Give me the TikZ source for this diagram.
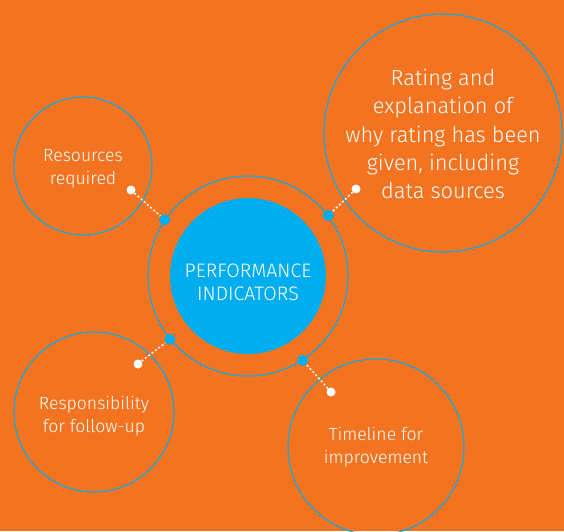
\documentclass[tikz,border=0pt]{standalone}
\usepackage{fontspec}
\setmainfont{Fira Sans Light}
\definecolor{bgorange}{HTML}{F37321}
\definecolor{piblue}{HTML}{00AEEF}
\begin{document}
\begin{tikzpicture}[x=1pt,y=-1pt,
  bubble/.style={circle, draw=piblue, line width=1.1pt, inner sep=0pt},
  lbl/.style={text=white, align=center, inner sep=0pt},
  smalltext/.style={font=\fontsize{17.6}{23}\selectfont},
  bigtext/.style={font=\fontsize{21.8}{28.3}\selectfont},
  bluedot/.style={circle, fill=piblue, inner sep=0pt, minimum size=11pt},
  whitedot/.style={circle, fill=white, inner sep=0pt, minimum size=9pt},
  link/.style={white, line width=1.5pt, dash pattern=on 2pt off 2.2pt}]
\fill[bgorange] (0,0) rectangle (564,531);
\useasboundingbox (0,0) rectangle (564,531);
% central
\node[bubble, minimum size=200pt] (ring) at (248,276) {};
\node[circle, fill=piblue, inner sep=0pt, minimum size=156pt] (core) at (248,276) {};
\node[lbl, font=\fontsize{19.5}{23}\selectfont, yshift=-6pt] (coretxt) at (core) {PERFORMANCE\\INDICATORS};
% satellites
\node[bubble, minimum size=138pt] (res) at (83,166) {};
\node[lbl, smalltext, yshift=-3pt] (restxt) at (res) {Resources\\required};
\node[bubble, minimum size=238pt] (rat) at (443,133) {};
\node[lbl, bigtext, yshift=-1pt] (rattxt) at (rat) {Rating and\\explanation of\\why rating has been\\given, including\\data sources};
\node[bubble, minimum size=160pt] (resp) at (94,412) {};
\node[lbl, smalltext, yshift=-4pt] (resptxt) at (resp) {Responsibility\\for follow-up};
\node[bubble, minimum size=176pt] (time) at (376,447) {};
\node[lbl, smalltext] (timetxt) at (time) {Timeline for\\improvement};
% dots on the ring
\node[bluedot] (b1) at (ring.146) {};
\node[bluedot] (b2) at (ring.37.7) {};
\node[bluedot] (b3) at (ring.219) {};
\node[bluedot] (b4) at (ring.303) {};
% white dots
\node[whitedot] (w1) at (131,190) {};
\node[whitedot] (w2) at (356,189) {};
\node[whitedot] (w3) at (138,364) {};
\node[whitedot] (w4) at (331,392) {};
% connectors
\draw[link] (w1) -- (b1);
\draw[link] (w2) -- (b2);
\draw[link] (w3) -- (b3);
\draw[link] (w4) -- (b4);
\end{tikzpicture}
\end{document}
